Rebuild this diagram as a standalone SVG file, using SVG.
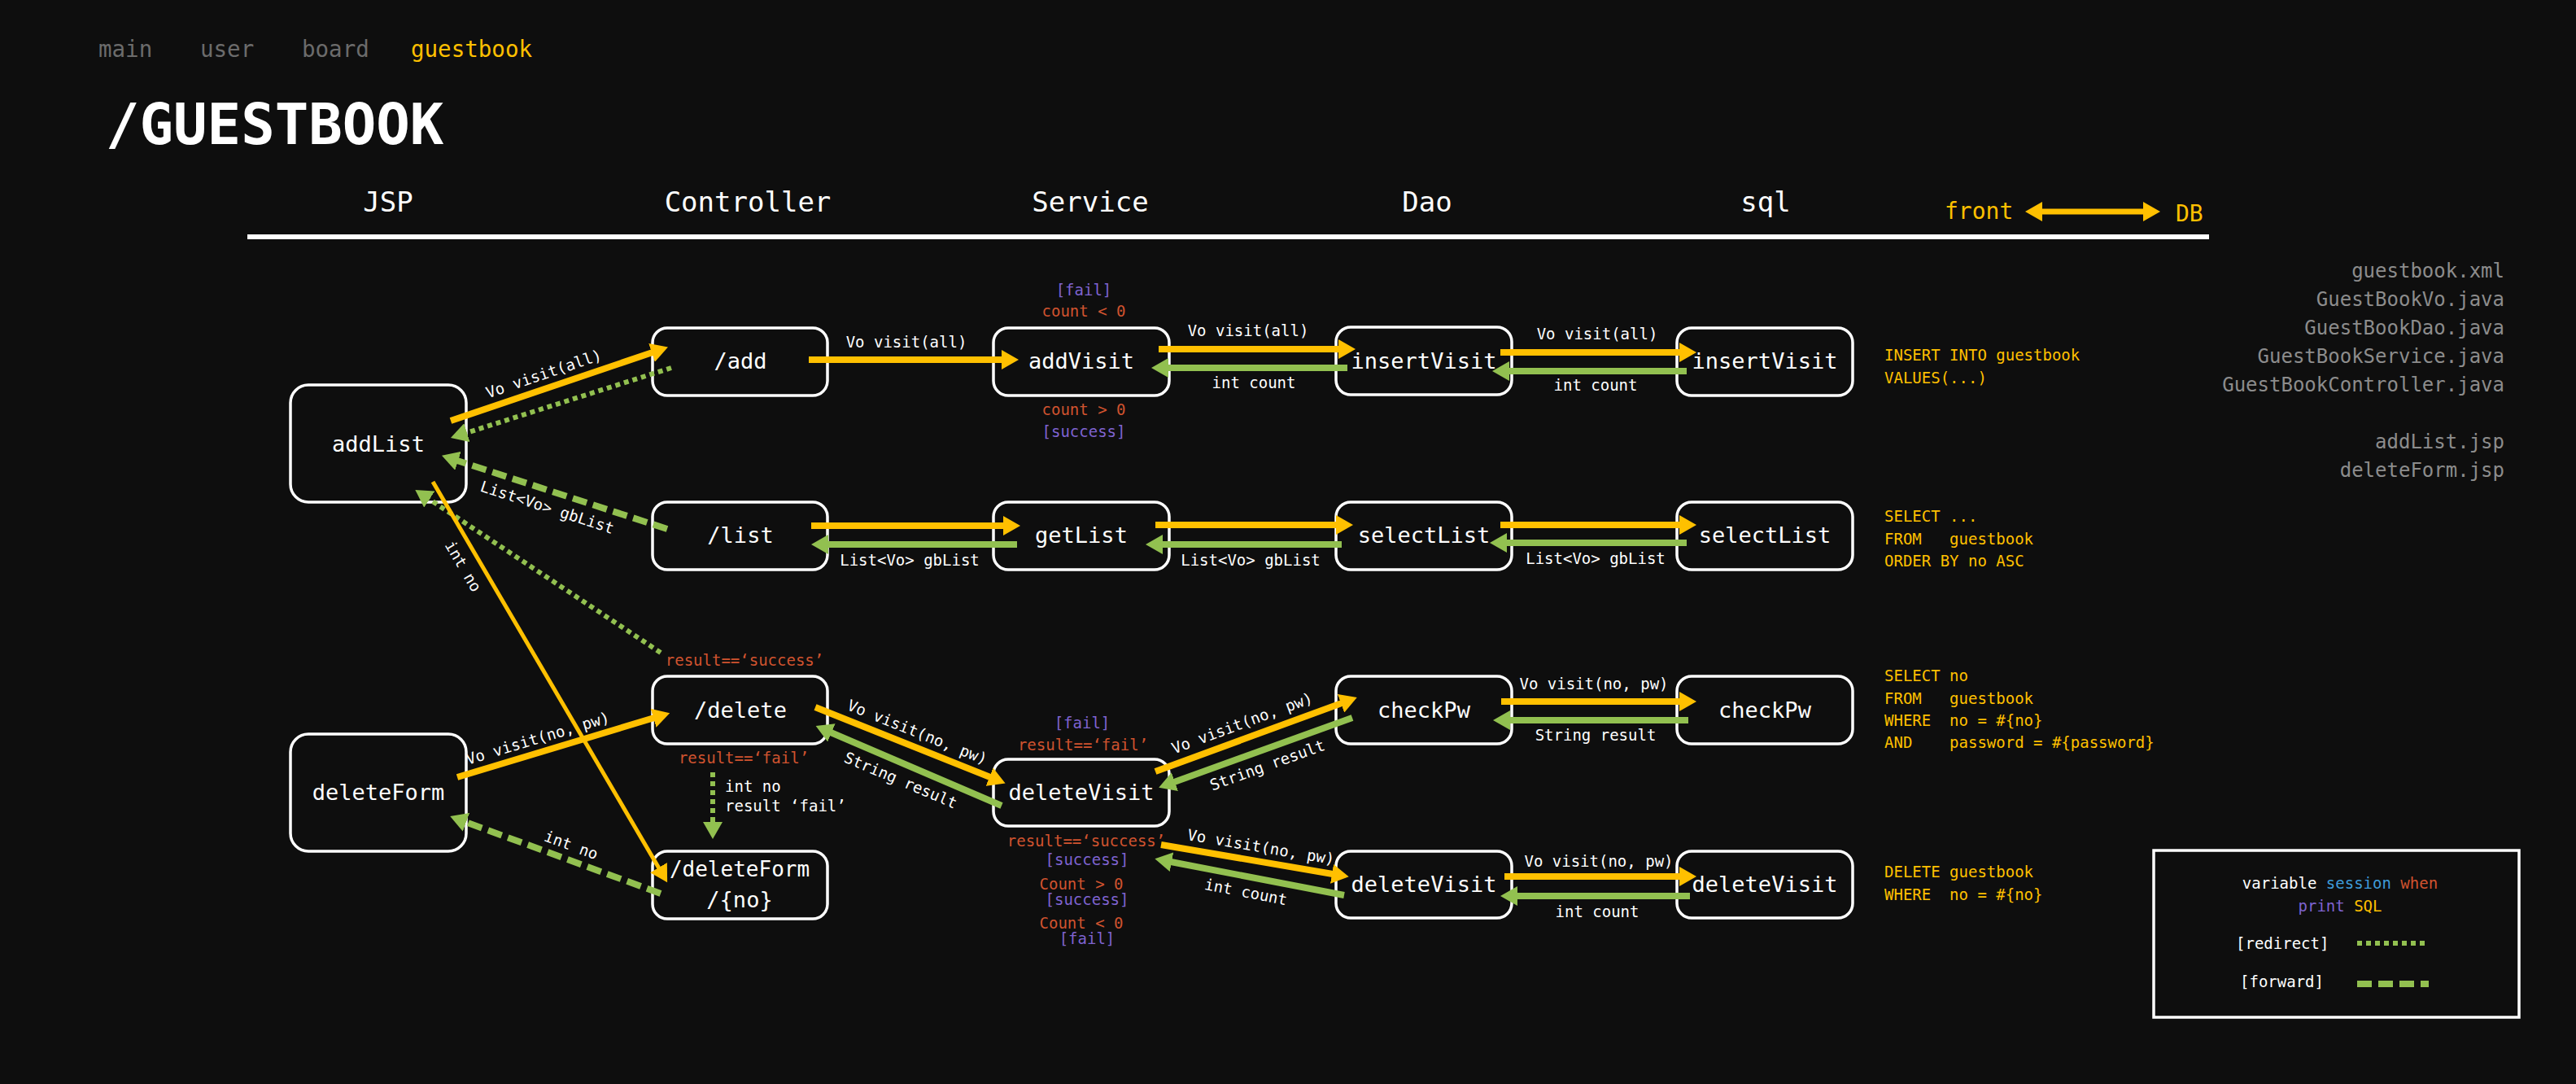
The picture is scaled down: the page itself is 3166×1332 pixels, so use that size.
<svg xmlns="http://www.w3.org/2000/svg" width="3166" height="1332" viewBox="0 0 3166 1332">
<style>
text{font-family:"DejaVu Sans Mono","Liberation Mono",monospace;}
.node rect{fill:#0e0e0e;stroke:#ffffff;stroke-width:3.5}
.nt{font-size:27px;fill:#ffffff;text-anchor:middle}
.lbl{font-size:19px;fill:#ffffff;text-anchor:middle}
.hd{font-size:34px;fill:#ffffff;text-anchor:middle}
.nav{font-size:27.5px;fill:#6b6b6b}
.file{font-size:24px;fill:#8c8c8c;text-anchor:end}
.sql{font-size:19px;fill:#ffc000;white-space:pre}
.red{font-size:19px;fill:#d0532f;text-anchor:middle}
.pur{font-size:19px;fill:#7e63d0;text-anchor:middle}
.y{stroke:#ffc000;stroke-width:8;fill:none}
.yt{stroke:#ffc000;stroke-width:5;fill:none}
.g{stroke:#92c050;stroke-width:8;fill:none}
.dot{stroke:#92c050;stroke-width:6;stroke-dasharray:6 5;fill:none}
.dash{stroke:#92c050;stroke-width:8;stroke-dasharray:18 8;fill:none}
</style>
<defs>
<marker id="ay" markerUnits="userSpaceOnUse" markerWidth="22" markerHeight="24" refX="1" refY="12" orient="auto-start-reverse"><path d="M0,0 L21,12 L0,24 z" fill="#ffc000"/></marker>
<marker id="ag" markerUnits="userSpaceOnUse" markerWidth="22" markerHeight="24" refX="1" refY="12" orient="auto"><path d="M0,0 L21,12 L0,24 z" fill="#92c050"/></marker>
</defs>
<rect x="0" y="0" width="3166" height="1332" fill="#0e0e0e"/>

<g id="header">
<text class="nav" x="121" y="70">main</text>
<text class="nav" x="246" y="70">user</text>
<text class="nav" x="371" y="70">board</text>
<text class="nav" x="505" y="70" style="fill:#ffc000">guestbook</text>
<text x="130" y="177" font-size="69" font-weight="bold" fill="#ffffff">/GUESTBOOK</text>
<text class="hd" x="477" y="260">JSP</text>
<text class="hd" x="919" y="260">Controller</text>
<text class="hd" x="1340" y="260">Service</text>
<text class="hd" x="1754" y="260">Dao</text>
<text class="hd" x="2170" y="260">sql</text>
<text x="2390" y="269" font-size="28" fill="#ffc000">front</text>
<line x1="2509" y1="260" x2="2635" y2="260" stroke="#ffc000" stroke-width="7" marker-start="url(#ay)" marker-end="url(#ay)"/>
<text x="2674" y="272" font-size="28" fill="#ffc000">DB</text>
<rect x="304" y="288" width="2411" height="6" fill="#ffffff"/>
</g>

<g id="files">
<text class="file" x="3078" y="341">guestbook.xml</text>
<text class="file" x="3078" y="376">GuestBookVo.java</text>
<text class="file" x="3078" y="411">GuestBookDao.java</text>
<text class="file" x="3078" y="446">GuestBookService.java</text>
<text class="file" x="3078" y="481">GuestBookController.java</text>
<text class="file" x="3078" y="551">addList.jsp</text>
<text class="file" x="3078" y="586">deleteForm.jsp</text>
</g>

<g id="node-addList" class="node"><rect x="357" y="473" width="216" height="144" rx="22"/><text class="nt" x="465" y="555">addList</text></g>
<g id="node-deleteForm" class="node"><rect x="357" y="902" width="216" height="144" rx="22"/><text class="nt" x="465" y="983">deleteForm</text></g>
<g id="node-add" class="node"><rect x="802" y="403" width="215" height="83" rx="18"/><text class="nt" x="910" y="453">/add</text></g>
<g id="node-list" class="node"><rect x="802" y="617" width="215" height="83" rx="18"/><text class="nt" x="910" y="667">/list</text></g>
<g id="node-delete" class="node"><rect x="802" y="831" width="215" height="83" rx="18"/><text class="nt" x="910" y="882">/delete</text>
<text class="red" x="915" y="818">result==‘success’</text>
<text class="red" x="914" y="938">result==‘fail’</text></g>
<g id="node-deleteFormNo" class="node"><rect x="802" y="1046" width="215" height="83" rx="18"/><text class="nt" x="909" y="1077" style="font-size:26px">/deleteForm</text><text class="nt" x="909" y="1115">/{no}</text></g>
<g id="node-addVisit" class="node"><rect x="1221" y="403" width="216" height="83" rx="18"/><text class="nt" x="1329" y="453">addVisit</text>
<text class="pur" x="1332" y="363">[fail]</text>
<text class="red" x="1332" y="389">count &lt; 0</text>
<text class="red" x="1332" y="510">count &gt; 0</text>
<text class="pur" x="1332" y="537">[success]</text></g>
<g id="node-getList" class="node"><rect x="1221" y="617" width="216" height="83" rx="18"/><text class="nt" x="1329" y="667">getList</text></g>
<g id="node-deleteVisit-svc" class="node"><rect x="1221" y="933" width="216" height="82" rx="18"/><text class="nt" x="1329" y="983">deleteVisit</text>
<text class="pur" x="1330" y="895">[fail]</text>
<text class="red" x="1331" y="922">result==‘fail’</text>
<text class="red" x="1335" y="1040">result==‘success’</text>
<text class="pur" x="1336" y="1063">[success]</text>
<text class="red" x="1329" y="1093">Count &gt; 0</text>
<text class="pur" x="1336" y="1112">[success]</text>
<text class="red" x="1329" y="1141">Count &lt; 0</text>
<text class="pur" x="1336" y="1160">[fail]</text></g>
<g id="node-insertVisit-dao" class="node"><rect x="1642" y="402" width="216" height="83" rx="18"/><text class="nt" x="1750" y="453">insertVisit</text></g>
<g id="node-selectList-dao" class="node"><rect x="1642" y="617" width="216" height="83" rx="18"/><text class="nt" x="1750" y="667">selectList</text></g>
<g id="node-checkPw-dao" class="node"><rect x="1642" y="831" width="216" height="83" rx="18"/><text class="nt" x="1750" y="882">checkPw</text></g>
<g id="node-deleteVisit-dao" class="node"><rect x="1642" y="1046" width="216" height="82" rx="18"/><text class="nt" x="1750" y="1096">deleteVisit</text></g>
<g id="node-insertVisit-sql" class="node"><rect x="2061" y="403" width="216" height="83" rx="18"/><text class="nt" x="2169" y="453">insertVisit</text></g>
<g id="node-selectList-sql" class="node"><rect x="2061" y="617" width="216" height="83" rx="18"/><text class="nt" x="2169" y="667">selectList</text></g>
<g id="node-checkPw-sql" class="node"><rect x="2061" y="831" width="216" height="83" rx="18"/><text class="nt" x="2169" y="882">checkPw</text></g>
<g id="node-deleteVisit-sql" class="node"><rect x="2061" y="1046" width="216" height="82" rx="18"/><text class="nt" x="2169" y="1096">deleteVisit</text></g>

<g id="sql-text">
<text class="sql" x="2316" y="443">INSERT INTO guestbook</text>
<text class="sql" x="2316" y="471">VALUES(...)</text>
<text class="sql" x="2316" y="641">SELECT ...</text>
<text class="sql" x="2316" y="669">FROM   guestbook</text>
<text class="sql" x="2316" y="696">ORDER BY no ASC</text>
<text class="sql" x="2316" y="837">SELECT no</text>
<text class="sql" x="2316" y="865">FROM   guestbook</text>
<text class="sql" x="2316" y="892">WHERE  no = #{no}</text>
<text class="sql" x="2316" y="919">AND    password = #{password}</text>
<text class="sql" x="2316" y="1078">DELETE guestbook</text>
<text class="sql" x="2316" y="1106">WHERE  no = #{no}</text>
</g>

<g id="connectors">
<path class="y" d="M554,517 L802,433" marker-end="url(#ay)"/>
<path class="dot" d="M825,452 L573,532" marker-end="url(#ag)"/>
<path class="dash" d="M820,650 L562,566" marker-end="url(#ag)"/>
<path class="dot" d="M812,802 L527,613" marker-end="url(#ag)"/>
<path class="yt" d="M532,592 L810,1067" marker-end="url(#ay)"/>
<path class="y" d="M562,955 L804,882" marker-end="url(#ay)"/>
<path class="dash" d="M812,1098 L572,1010" marker-end="url(#ag)"/>
<path class="dot" d="M876,949 L876,1011" marker-end="url(#ag)"/>
<path class="y" d="M994,442 L1232,442" marker-end="url(#ay)"/>
<path class="y" d="M1424,429 L1646,429" marker-end="url(#ay)"/>
<path class="g" d="M1656,452 L1435,452" marker-end="url(#ag)"/>
<path class="y" d="M1844,433 L2065,433" marker-end="url(#ay)"/>
<path class="g" d="M2073,456 L1854,456" marker-end="url(#ag)"/>
<path class="y" d="M997,646 L1234,646" marker-end="url(#ay)"/>
<path class="g" d="M1250,669 L1017,669" marker-end="url(#ag)"/>
<path class="y" d="M1420,645 L1643,645" marker-end="url(#ay)"/>
<path class="g" d="M1649,669 L1428,669" marker-end="url(#ag)"/>
<path class="y" d="M1844,645 L2065,645" marker-end="url(#ay)"/>
<path class="g" d="M2073,667 L1851,667" marker-end="url(#ag)"/>
<path class="y" d="M1002,869 L1217,955" marker-end="url(#ay)"/>
<path class="g" d="M1231,990 L1021,900" marker-end="url(#ag)"/>
<path class="y" d="M1420,948 L1649,864" marker-end="url(#ay)"/>
<path class="g" d="M1662,882 L1443,961" marker-end="url(#ag)"/>
<path class="y" d="M1427,1038 L1638,1074" marker-end="url(#ay)"/>
<path class="g" d="M1652,1100 L1439,1059" marker-end="url(#ag)"/>
<path class="y" d="M1845,862 L2065,862" marker-end="url(#ay)"/>
<path class="g" d="M2075,885 L1855,885" marker-end="url(#ag)"/>
<path class="y" d="M1849,1077 L2065,1077" marker-end="url(#ay)"/>
<path class="g" d="M2077,1101 L1864,1101" marker-end="url(#ag)"/>

<text class="lbl" transform="translate(674,476) rotate(-18.7)" y="-11">Vo visit(all)</text>
<text class="lbl" transform="translate(679,604) rotate(18)" y="27">List&lt;Vo&gt; gbList</text>
<text class="lbl" transform="translate(586,686) rotate(59.6)" y="26">int no</text>
<text class="lbl" transform="translate(666,924) rotate(-16.7)" y="-11">Vo visit(no, pw)</text>
<text class="lbl" transform="translate(696,1055) rotate(20.2)" y="-11">int no</text>
<text class="lbl" x="1114" y="427">Vo visit(all)</text>
<text class="lbl" x="1534" y="413">Vo visit(all)</text>
<text class="lbl" x="1541" y="477">int count</text>
<text class="lbl" x="1963" y="417">Vo visit(all)</text>
<text class="lbl" x="1961" y="480">int count</text>
<text class="lbl" x="1118" y="695">List&lt;Vo&gt; gbList</text>
<text class="lbl" x="1537" y="695">List&lt;Vo&gt; gbList</text>
<text class="lbl" x="1961" y="693">List&lt;Vo&gt; gbList</text>
<text class="lbl" transform="translate(1121,916) rotate(21.8)" y="-11">Vo visit(no, pw)</text>
<text class="lbl" transform="translate(1115,940) rotate(23.1)" y="27">String result</text>
<text class="lbl" transform="translate(1533,906) rotate(-20.3)" y="-12">Vo visit(no, pw)</text>
<text class="lbl" transform="translate(1551,922) rotate(-19.9)" y="26">String result</text>
<text class="lbl" transform="translate(1547,1058) rotate(9.6)" y="-11">Vo visit(no, pw)</text>
<text class="lbl" transform="translate(1535,1077) rotate(11)" y="26">int count</text>
<text class="lbl" x="1959" y="847">Vo visit(no, pw)</text>
<text class="lbl" x="1961" y="910">String result</text>
<text class="lbl" x="1965" y="1065">Vo visit(no, pw)</text>
<text class="lbl" x="1963" y="1127">int count</text>
<text class="lbl" x="891" y="973" style="text-anchor:start">int no</text>
<text class="lbl" x="891" y="997" style="text-anchor:start">result ‘fail’</text>
</g>

<g id="legend">
<rect x="2647" y="1045" width="449" height="205" fill="#0e0e0e" stroke="#ffffff" stroke-width="3.5"/>
<text class="lbl" x="2876" y="1092"><tspan fill="#ffffff">variable</tspan> <tspan fill="#3e9bd8">session</tspan> <tspan fill="#d0532f">when</tspan></text>
<text class="lbl" x="2876" y="1120"><tspan fill="#7e63d0">print</tspan> <tspan fill="#ffc000">SQL</tspan></text>
<text class="lbl" x="2748" y="1166" style="text-anchor:start">[redirect]</text>
<text class="lbl" x="2753" y="1213" style="text-anchor:start">[forward]</text>
<path class="dot" d="M2897,1159 L2985,1159"/>
<path class="dash" d="M2897,1209 L2985,1209"/>
</g>
</svg>
